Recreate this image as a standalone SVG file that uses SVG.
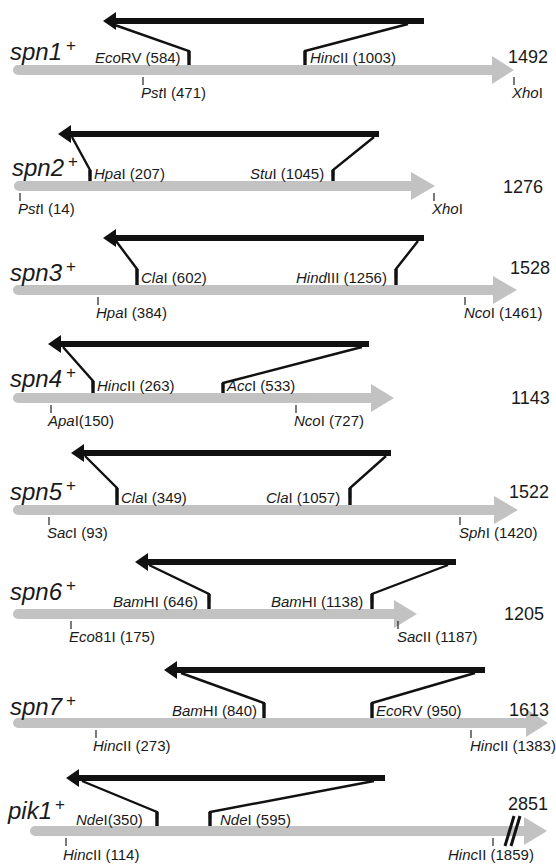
<svg xmlns="http://www.w3.org/2000/svg" width="556" height="866" viewBox="0 0 556 866">
<style>
.bar{fill:#c2c2c2}
.blk{fill:#111}
.fold{fill:none;stroke:#111;stroke-width:2.4;stroke-linejoin:miter}
.post{stroke:#111;stroke-width:3.4}
.tick{stroke:#222;stroke-width:1.2}
.site{font-family:"Liberation Sans",Arial,sans-serif;font-size:15px;fill:#1a1a1a}
.i{font-style:italic}
.gene{font-family:"Liberation Sans",Arial,sans-serif;font-size:24px;font-style:italic;fill:#1a1a1a}
.sup{font-family:"Liberation Sans",Arial,sans-serif;font-size:17px;fill:#1a1a1a}
.len{font-family:"Liberation Sans",Arial,sans-serif;font-size:18px;fill:#1a1a1a}
</style>

<g id="spn1">
<path class="bar" d="M18,65 H492 V56 L514,70 L492,84 V75 H18 A5,5 0 0 1 18,65 Z"/>
<path class="blk" d="M103,21 L116,12 V18 H424 V24 H116 V30 Z"/>
<text class="gene" x="10" y="60">spn1</text><text class="sup" x="66" y="51">+</text>
<text class="site" x="95" y="63"><tspan class="i">Eco</tspan>RV (584)</text>
<text class="site" x="310" y="63"><tspan class="i">Hinc</tspan>II (1003)</text>
<text class="site" x="141" y="98"><tspan class="i">Pst</tspan>I (471)</text>
<text class="site" x="512" y="98"><tspan class="i">Xho</tspan>I</text>
<text class="len" x="508" y="63">1492</text>
</g>

<g id="spn2">
<path class="bar" d="M19,181 H411 V172 L435,186 L411,200 V191 H19 A5,5 0 0 1 19,181 Z"/>
<path class="blk" d="M58,134 L71,125 V131 H379 V137 H71 V143 Z"/>
<text class="gene" x="12" y="176">spn2</text><text class="sup" x="68" y="167">+</text>
<text class="site" x="94" y="179"><tspan class="i">Hpa</tspan>I (207)</text>
<text class="site" x="250" y="179"><tspan class="i">Stu</tspan>I (1045)</text>
<text class="site" x="18" y="214"><tspan class="i">Pst</tspan>I (14)</text>
<text class="site" x="432" y="214"><tspan class="i">Xho</tspan>I</text>
<text class="len" x="503" y="193">1276</text>
</g>

<g id="spn3">
<path class="bar" d="M18,285 H493 V276 L517,290 L493,304 V295 H18 A5,5 0 0 1 18,285 Z"/>
<path class="blk" d="M103,238 L116,229 V235 H424 V241 H116 V247 Z"/>
<text class="gene" x="10" y="281">spn3</text><text class="sup" x="66" y="272">+</text>
<text class="site" x="141" y="283"><tspan class="i">Cla</tspan>I (602)</text>
<text class="site" x="296" y="283"><tspan class="i">Hind</tspan>III (1256)</text>
<text class="site" x="96" y="318"><tspan class="i">Hpa</tspan>I (384)</text>
<text class="site" x="464" y="318"><tspan class="i">Nco</tspan>I (1461)</text>
<text class="len" x="510" y="274">1528</text>
</g>

<g id="spn4">
<path class="bar" d="M18,393 H371 V384 L394,398 L371,412 V403 H18 A5,5 0 0 1 18,393 Z"/>
<path class="blk" d="M48,344 L61,335 V341 H369 V347 H61 V353 Z"/>
<text class="gene" x="10" y="387">spn4</text><text class="sup" x="66" y="378">+</text>
<text class="site" x="97" y="391"><tspan class="i">Hinc</tspan>II (263)</text>
<text class="site" x="227" y="391"><tspan class="i">Acc</tspan>I (533)</text>
<text class="site" x="48" y="426"><tspan class="i">Apa</tspan>I(150)</text>
<text class="site" x="294" y="426"><tspan class="i">Nco</tspan>I (727)</text>
<text class="len" x="511" y="404">1143</text>
</g>

<g id="spn5">
<path class="bar" d="M18,505 H494 V496 L518,510 L494,524 V515 H18 A5,5 0 0 1 18,505 Z"/>
<path class="blk" d="M71,453 L84,444 V450 H391 V456 H84 V462 Z"/>
<text class="gene" x="10" y="500">spn5</text><text class="sup" x="66" y="491">+</text>
<text class="site" x="121" y="503"><tspan class="i">Cla</tspan>I (349)</text>
<text class="site" x="266" y="503"><tspan class="i">Cla</tspan>I (1057)</text>
<text class="site" x="47" y="538"><tspan class="i">Sac</tspan>I (93)</text>
<text class="site" x="459" y="538"><tspan class="i">Sph</tspan>I (1420)</text>
<text class="len" x="509" y="498">1522</text>
</g>

<g id="spn6">
<path class="bar" d="M18,609 H394 V600 L417,614 L394,628 V619 H18 A5,5 0 0 1 18,609 Z"/>
<path class="blk" d="M135,562 L148,553 V559 H456 V565 H148 V571 Z"/>
<text class="gene" x="10" y="600">spn6</text><text class="sup" x="66" y="591">+</text>
<text class="site" x="113" y="607"><tspan class="i">Bam</tspan>HI (646)</text>
<text class="site" x="271" y="607"><tspan class="i">Bam</tspan>HI (1138)</text>
<text class="site" x="69" y="642"><tspan class="i">Eco</tspan>81I (175)</text>
<text class="site" x="397" y="642"><tspan class="i">Sac</tspan>II (1187)</text>
<text class="len" x="504" y="620">1205</text>
</g>

<g id="spn7">
<path class="bar" d="M18,718 H526 V709 L548,723 L526,737 V728 H18 A5,5 0 0 1 18,718 Z"/>
<path class="blk" d="M164,670 L177,661 V667 H485 V673 H177 V679 Z"/>
<text class="gene" x="10" y="715">spn7</text><text class="sup" x="66" y="706">+</text>
<text class="site" x="172" y="716"><tspan class="i">Bam</tspan>HI (840)</text>
<text class="site" x="376" y="716"><tspan class="i">Eco</tspan>RV (950)</text>
<text class="site" x="93" y="751"><tspan class="i">Hinc</tspan>II (273)</text>
<text class="site" x="470" y="751"><tspan class="i">Hinc</tspan>II (1383)</text>
<text class="len" x="509" y="716">1613</text>
</g>

<g id="pik1">
<path class="bar" d="M35,826 H524 V817 L547,831 L524,845 V836 H35 A5,5 0 0 1 35,826 Z"/>
<path class="blk" d="M66,778 L79,769 V775 H385 V781 H79 V787 Z"/>
<line x1="505" y1="846" x2="514" y2="816" stroke="#111" stroke-width="3"/>
<line x1="511" y1="846" x2="520" y2="816" stroke="#111" stroke-width="3"/>
<text class="gene" x="8" y="819">pik1</text><text class="sup" x="55" y="810">+</text>
<text class="site" x="76" y="825"><tspan class="i">Nde</tspan>I(350)</text>
<text class="site" x="220" y="825"><tspan class="i">Nde</tspan>I (595)</text>
<text class="site" x="63" y="860"><tspan class="i">Hinc</tspan>II (114)</text>
<text class="site" x="448" y="860"><tspan class="i">Hinc</tspan>II (1859)</text>
<text class="len" x="508" y="810">2851</text>
</g>

<g id="connectors">
<polyline class="fold" points="112,24 189,51 189,60"/><line class="post" x1="189" y1="51" x2="189" y2="65"/>
<polyline class="fold" points="408,24 305,51 305,60"/><line class="post" x1="305" y1="51" x2="305" y2="65"/>
<line class="tick" x1="143" y1="77" x2="143" y2="85"/><line class="tick" x1="514" y1="77" x2="514" y2="85"/>

<polyline class="fold" points="72,137 90,170 90,176"/><line class="post" x1="90" y1="170" x2="90" y2="181"/>
<polyline class="fold" points="374,137 333,170 333,176"/><line class="post" x1="333" y1="170" x2="333" y2="181"/>
<line class="tick" x1="20" y1="193" x2="20" y2="201"/><line class="tick" x1="434" y1="193" x2="434" y2="201"/>

<polyline class="fold" points="116,241 137,269 137,278"/><line class="post" x1="137" y1="269" x2="137" y2="285"/>
<polyline class="fold" points="418,241 396,269 396,278"/><line class="post" x1="396" y1="269" x2="396" y2="285"/>
<line class="tick" x1="98" y1="297" x2="98" y2="305"/><line class="tick" x1="465" y1="297" x2="465" y2="305"/>

<polyline class="fold" points="63,347 93,381 93,388"/><line class="post" x1="93" y1="381" x2="93" y2="393"/>
<polyline class="fold" points="362,347 223,383 223,388"/><line class="post" x1="223" y1="383" x2="223" y2="393"/>
<line class="tick" x1="51" y1="405" x2="51" y2="413"/><line class="tick" x1="296" y1="405" x2="296" y2="413"/>

<polyline class="fold" points="85,456 117,488 117,498"/><line class="post" x1="117" y1="488" x2="117" y2="505"/>
<polyline class="fold" points="386,456 350,488 350,498"/><line class="post" x1="350" y1="488" x2="350" y2="505"/>
<line class="tick" x1="49" y1="517" x2="49" y2="525"/><line class="tick" x1="460" y1="517" x2="460" y2="525"/>

<polyline class="fold" points="149,565 209,594 209,602"/><line class="post" x1="209" y1="594" x2="209" y2="609"/>
<polyline class="fold" points="448,565 372,594 372,602"/><line class="post" x1="372" y1="594" x2="372" y2="609"/>
<line class="tick" x1="71" y1="621" x2="71" y2="629"/><line class="tick" x1="398" y1="621" x2="398" y2="629"/>

<polyline class="fold" points="181,673 264,703 264,710"/><line class="post" x1="264" y1="703" x2="264" y2="718"/>
<polyline class="fold" points="475,673 372,703 372,710"/><line class="post" x1="372" y1="703" x2="372" y2="718"/>
<line class="tick" x1="96" y1="730" x2="96" y2="738"/><line class="tick" x1="471" y1="730" x2="471" y2="738"/>

<polyline class="fold" points="82,781 157,812 157,819"/><line class="post" x1="157" y1="812" x2="157" y2="826"/>
<polyline class="fold" points="374,781 210,812 210,819"/><line class="post" x1="210" y1="812" x2="210" y2="826"/>
<line class="tick" x1="66" y1="838" x2="66" y2="846"/><line class="tick" x1="493" y1="838" x2="493" y2="846"/>
</g>
</svg>
